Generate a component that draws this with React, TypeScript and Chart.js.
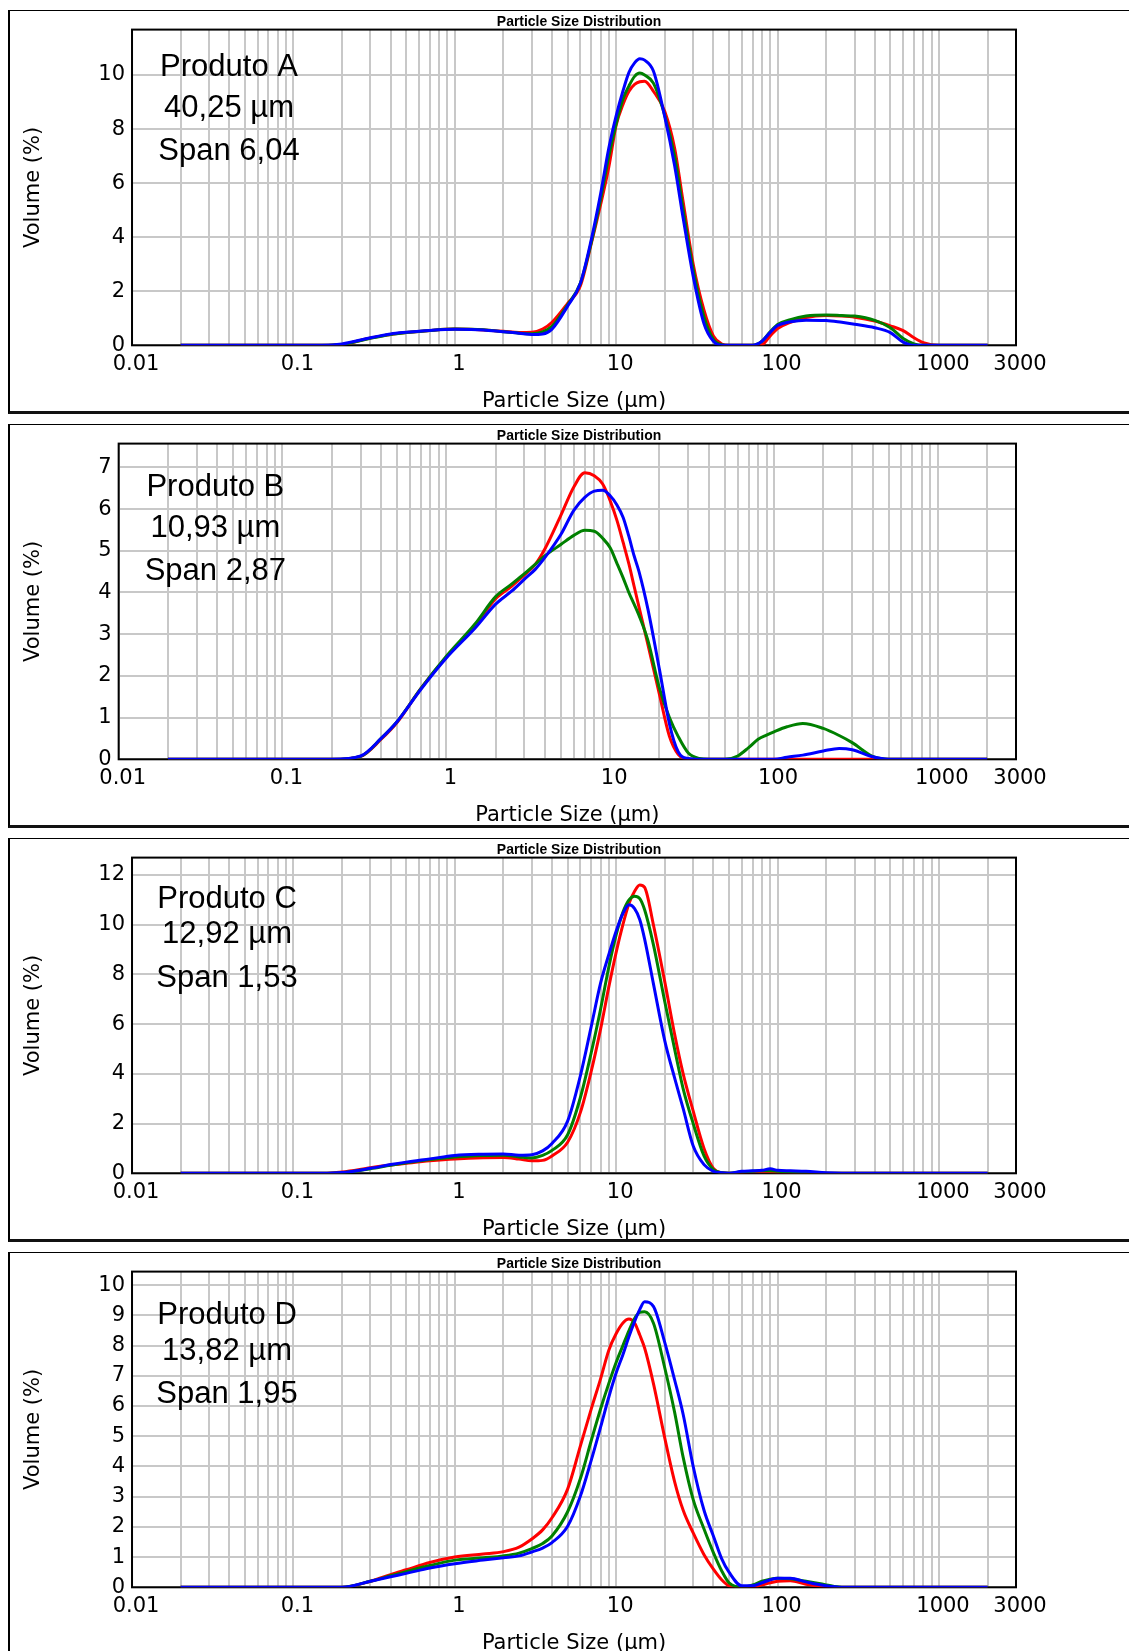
import React, { useEffect, useRef } from 'react';
import { Chart, registerables } from 'chart.js';

Chart.register(...registerables);
Chart.defaults.font.family = "'DejaVu Sans', sans-serif";

// Particle sizes (µm) shared by all series
const sizes = [0.02, 0.1, 0.15, 0.2, 0.3, 0.4, 0.5, 0.7, 1, 1.5, 2, 2.5, 3, 3.5, 4, 5, 6, 7, 8, 9, 10, 11, 12, 13, 14, 15, 17, 20, 23, 26, 30, 35, 40, 45, 50, 60, 70, 80, 90, 100, 120, 150, 200, 250, 300, 400, 500, 600, 700, 800, 1000, 2000];

// Produto A
const redA = [0, 0, 0, 0.03, 0.27, 0.4, 0.47, 0.55, 0.6, 0.57, 0.52, 0.47, 0.48, 0.6, 0.85, 1.55, 2.2, 3.75, 5.2, 6.6, 8.15, 8.9, 9.4, 9.65, 9.75, 9.77, 9.4, 8.65, 7.3, 5.3, 3.0, 1.3, 0.35, 0.05, 0, 0, 0, 0.02, 0.35, 0.62, 0.85, 1.03, 1.1, 1.08, 1.04, 0.9, 0.72, 0.54, 0.28, 0.1, 0, 0];
const greenA = [0, 0, 0, 0.03, 0.26, 0.4, 0.47, 0.55, 0.6, 0.58, 0.5, 0.45, 0.43, 0.5, 0.7, 1.5, 2.3, 3.8, 5.4, 7.0, 8.2, 9.1, 9.6, 9.95, 10.07, 10.0, 9.7, 8.5, 7.0, 5.0, 2.8, 1.05, 0.22, 0.02, 0, 0, 0, 0.15, 0.5, 0.77, 0.95, 1.08, 1.12, 1.1, 1.08, 0.92, 0.65, 0.25, 0.05, 0, 0, 0];
const blueA = [0, 0, 0, 0.05, 0.28, 0.42, 0.48, 0.55, 0.59, 0.57, 0.5, 0.45, 0.4, 0.42, 0.6, 1.45, 2.3, 3.9, 5.6, 7.3, 8.5, 9.4, 10.1, 10.45, 10.6, 10.55, 10.15, 8.45, 6.65, 4.7, 2.55, 0.8, 0.15, 0, 0, 0, 0, 0.15, 0.48, 0.73, 0.87, 0.93, 0.92, 0.85, 0.78, 0.65, 0.47, 0.12, 0, 0, 0, 0];

// Produto B
const redB = [0, 0, 0, 0, 0.07, 0.48, 0.88, 1.7, 2.45, 3.2, 3.85, 4.15, 4.42, 4.68, 5.05, 5.85, 6.53, 6.87, 6.8, 6.6, 6.2, 5.73, 5.2, 4.69, 4.15, 3.65, 2.75, 1.55, 0.55, 0.12, 0, 0, 0, 0, 0, 0, 0, 0, 0, 0, 0, 0, 0, 0, 0, 0, 0, 0, 0, 0, 0, 0];
const greenB = [0, 0, 0, 0, 0.07, 0.5, 0.9, 1.7, 2.47, 3.25, 3.9, 4.2, 4.45, 4.68, 4.88, 5.15, 5.37, 5.49, 5.47, 5.3, 5.07, 4.7, 4.35, 4.0, 3.72, 3.45, 2.85, 1.7, 1.0, 0.55, 0.15, 0.02, 0, 0, 0, 0.08, 0.28, 0.48, 0.58, 0.66, 0.78, 0.86, 0.74, 0.57, 0.4, 0.07, 0, 0, 0, 0, 0, 0];
const blueB = [0, 0, 0, 0, 0.08, 0.5, 0.9, 1.68, 2.43, 3.15, 3.72, 4.03, 4.32, 4.56, 4.84, 5.39, 5.97, 6.28, 6.43, 6.45, 6.32, 6.1, 5.8, 5.35, 4.88, 4.5, 3.6, 2.15, 0.85, 0.18, 0.02, 0, 0, 0, 0, 0, 0, 0, 0, 0, 0.05, 0.1, 0.2, 0.26, 0.23, 0.06, 0, 0, 0, 0, 0, 0];

// Produto C
const redC = [0, 0, 0, 0.05, 0.22, 0.33, 0.4, 0.5, 0.58, 0.63, 0.64, 0.57, 0.5, 0.52, 0.7, 1.25, 2.45, 4.1, 5.8, 7.5, 8.9, 10.0, 10.85, 11.35, 11.6, 11.5, 10.0, 7.7, 5.6, 4.0, 2.5, 1.0, 0.2, 0.02, 0, 0.03, 0.05, 0.05, 0.05, 0.03, 0.02, 0, 0, 0, 0, 0, 0, 0, 0, 0, 0, 0];
const greenC = [0, 0, 0, 0.02, 0.18, 0.32, 0.42, 0.55, 0.66, 0.72, 0.73, 0.66, 0.62, 0.72, 0.92, 1.55, 3.05, 4.85, 6.6, 8.3, 9.6, 10.5, 11.0, 11.15, 11.05, 10.6, 9.2, 6.9, 5.0, 3.4, 2.0, 0.7, 0.15, 0.02, 0, 0.06, 0.08, 0.1, 0.1, 0.08, 0.05, 0.01, 0, 0, 0, 0, 0, 0, 0, 0, 0, 0];
const blueC = [0, 0, 0, 0.03, 0.2, 0.35, 0.45, 0.58, 0.72, 0.77, 0.78, 0.73, 0.75, 0.9, 1.2, 2.1, 3.93, 5.9, 7.65, 8.8, 9.75, 10.45, 10.8, 10.65, 10.2, 9.42, 7.63, 5.33, 3.84, 2.6, 1.1, 0.35, 0.08, 0.02, 0, 0.08, 0.1, 0.12, 0.18, 0.12, 0.1, 0.08, 0.02, 0, 0, 0, 0, 0, 0, 0, 0, 0];

// Produto D
const redD = [0, 0, 0, 0, 0.2, 0.42, 0.58, 0.82, 1.0, 1.1, 1.18, 1.33, 1.6, 1.9, 2.3, 3.25, 4.68, 5.9, 6.9, 7.85, 8.4, 8.75, 8.88, 8.75, 8.35, 7.92, 6.75, 4.94, 3.5, 2.55, 1.8, 1.08, 0.6, 0.25, 0.05, 0, 0, 0.08, 0.15, 0.2, 0.22, 0.1, 0.02, 0, 0, 0, 0, 0, 0, 0, 0, 0];
const greenD = [0, 0, 0, 0, 0.2, 0.38, 0.52, 0.72, 0.9, 0.98, 1.04, 1.13, 1.28, 1.45, 1.7, 2.5, 3.6, 4.85, 5.9, 6.75, 7.45, 8.0, 8.5, 8.9, 9.1, 9.12, 8.75, 7.26, 5.8, 4.3, 2.9, 1.93, 1.15, 0.55, 0.15, 0, 0.08, 0.2, 0.27, 0.3, 0.28, 0.2, 0.08, 0, 0, 0, 0, 0, 0, 0, 0, 0];
const blueD = [0, 0, 0, 0, 0.2, 0.35, 0.46, 0.64, 0.78, 0.9, 0.98, 1.04, 1.17, 1.3, 1.48, 2.02, 3.02, 4.2, 5.3, 6.3, 7.1, 7.7, 8.3, 8.8, 9.2, 9.45, 9.3, 8.1, 6.87, 5.72, 4.0, 2.55, 1.7, 0.95, 0.5, 0.05, 0.05, 0.15, 0.25, 0.3, 0.3, 0.18, 0.05, 0, 0, 0, 0, 0, 0, 0, 0, 0];

const panelSeries = [
  [redA, greenA, blueA],
  [redB, greenB, blueB],
  [redC, greenC, blueC],
  [redD, greenD, blueD],
];

const productNames = ['Produto A', 'Produto B', 'Produto C', 'Produto D'];
const meanSizes = ['40,25 µm', '10,93 µm', '12,92 µm', '13,82 µm'];
const spans = ['Span 6,04', 'Span 2,87', 'Span 1,53', 'Span 1,95'];

const yMaxes = [11.68, 7.57, 12.7, 10.45];
const ySteps = [2, 1, 2, 1];

const xLabelValues = [0.01, 0.1, 1, 10, 100, 1000, 3000];
const chartTitle = 'Particle Size Distribution';
const xTitle = 'Particle Size (µm)';
const yTitle = 'Volume (%)';

const seriesColors = ['rgb(255,0,0)', 'rgb(0,128,0)', 'rgb(0,0,255)'];
const seriesOrder = [3, 2, 1];

// layout of the annotation text (relative to the plot area)
const textDx = [97, 96.7, 95, 95];
const textBaselines = [
  [46.4, 87.1, 130.4],
  [52.4, 93.1, 136.4],
  [50.7, 85.7, 129.1],
  [52.4, 88.4, 131.7],
];

const GRID = 'rgb(200,200,200)';
const AXIS_FONT = { size: 21, lineHeight: 1 };

function buildXGrid(): number[] {
  const out: number[] = [];
  for (let e = -2; e <= 2; e++) {
    for (let m = 1; m <= 9; m++) out.push(+(m * Math.pow(10, e)).toPrecision(6));
  }
  out.push(1000, 2000, 3000);
  return out;
}
const xGridValues = buildXGrid();

function Panel({ index }: { index: number }) {
  const ref = useRef<HTMLCanvasElement | null>(null);

  useEffect(() => {
    const canvas = ref.current;
    if (!canvas) return;
    const step = ySteps[index];
    const yMax = yMaxes[index];
    const lines = [productNames[index], meanSizes[index], spans[index]];

    const decor = {
      id: 'decor' + index,
      beforeDatasetsDraw(chart: any) {
        const { ctx, chartArea: a } = chart;
        ctx.save();
        ctx.strokeStyle = '#000';
        ctx.lineWidth = 2;
        ctx.strokeRect(a.left, a.top, a.right - a.left, a.bottom - a.top);
        ctx.restore();
      },
      afterDraw(chart: any) {
        const { ctx, chartArea: a } = chart;
        ctx.save();
        ctx.fillStyle = '#000';
        ctx.font = "bold 15px 'Liberation Sans', Arial, sans-serif";
        ctx.textAlign = 'center';
        ctx.textBaseline = 'alphabetic';
        ctx.translate(a.right - 437, a.top - 3.6);
        ctx.scale(0.93, 1);
        ctx.fillText(chartTitle, 0, 0);
        ctx.restore();

        ctx.save();
        ctx.fillStyle = '#000';
        ctx.font = "31px 'Liberation Sans', Arial, sans-serif";
        ctx.textAlign = 'center';
        ctx.textBaseline = 'alphabetic';
        lines.forEach((t, k) => {
          ctx.fillText(t, a.left + textDx[index], a.top + textBaselines[index][k]);
        });
        ctx.restore();
      },
    };

    const chart = new Chart(canvas, {
      type: 'line',
      data: {
        datasets: panelSeries[index].map((vals, k) => ({
          data: sizes.map((s, j) => ({ x: s, y: vals[j] })),
          borderColor: seriesColors[k],
          backgroundColor: seriesColors[k],
          borderWidth: 3,
          pointRadius: 0,
          pointHoverRadius: 0,
          fill: false,
          cubicInterpolationMode: 'monotone',
          borderJoinStyle: 'round',
          order: seriesOrder[k],
        })),
      },
      options: {
        responsive: false,
        maintainAspectRatio: false,
        animation: false,
        devicePixelRatio: 1,
        events: [],
        layout: { padding: { top: 18.6, right: 113, bottom: 0, left: 0 } },
        plugins: {
          legend: { display: false },
          tooltip: { enabled: false },
          title: { display: false },
        },
        scales: {
          x: {
            type: 'logarithmic',
            min: 0.01,
            max: 3000,
            afterBuildTicks: (s: any) => {
              s.ticks = xGridValues.map((v) => ({ value: v }));
            },
            afterFit: (s: any) => {
              s.height = 65.7;
            },
            ticks: {
              autoSkip: false,
              maxRotation: 0,
              minRotation: 0,
              padding: 9,
              labelOffset: 4,
              color: '#000',
              font: AXIS_FONT,
              callback: (v: any) => {
                const n = Number(v);
                const hit = xLabelValues.find((l) => Math.abs(n / l - 1) < 1e-6);
                return hit !== undefined ? String(hit) : '';
              },
            },
            grid: { color: GRID, lineWidth: 2, drawTicks: false },
            border: { display: false },
            title: {
              display: true,
              text: xTitle,
              color: '#000',
              font: AXIS_FONT,
              padding: { top: 0, bottom: -1 },
            },
          },
          y: {
            type: 'linear',
            min: 0,
            max: yMax,
            afterBuildTicks: (s: any) => {
              const t: any[] = [];
              for (let v = 0; v <= yMax + 1e-9; v += step) t.push({ value: v });
              s.ticks = t;
            },
            ticks: {
              stepSize: step,
              padding: 7,
              color: '#000',
              font: AXIS_FONT,
            },
            grid: { color: GRID, lineWidth: 2, drawTicks: false },
            border: { display: false },
            title: {
              display: true,
              text: yTitle,
              color: '#000',
              font: { size: 21, lineHeight: 1.2 },
              padding: { top: 11.4, bottom: 44.7 },
            },
          },
        },
      } as any,
      plugins: [decor],
    } as any);

    return () => chart.destroy();
  }, [index]);

  return (
    <div
      style={{
        position: 'absolute',
        left: 8,
        top: 10 + index * 414,
        width: 1130,
        height: 400,
        borderLeft: '2px solid #000',
        borderTop: '1px solid #000',
        borderBottom: '3px solid #111',
        background: '#fff',
      }}
    >
      <canvas ref={ref} width={1119} height={400} style={{ display: 'block' }} />
    </div>
  );
}

export default function App() {
  return (
    <div
      style={{
        position: 'fixed',
        left: 0,
        top: 0,
        width: 1129,
        height: 1651,
        overflow: 'hidden',
        background: '#fff',
      }}
    >
      {panelSeries.map((_, i) => (
        <Panel key={i} index={i} />
      ))}
    </div>
  );
}
